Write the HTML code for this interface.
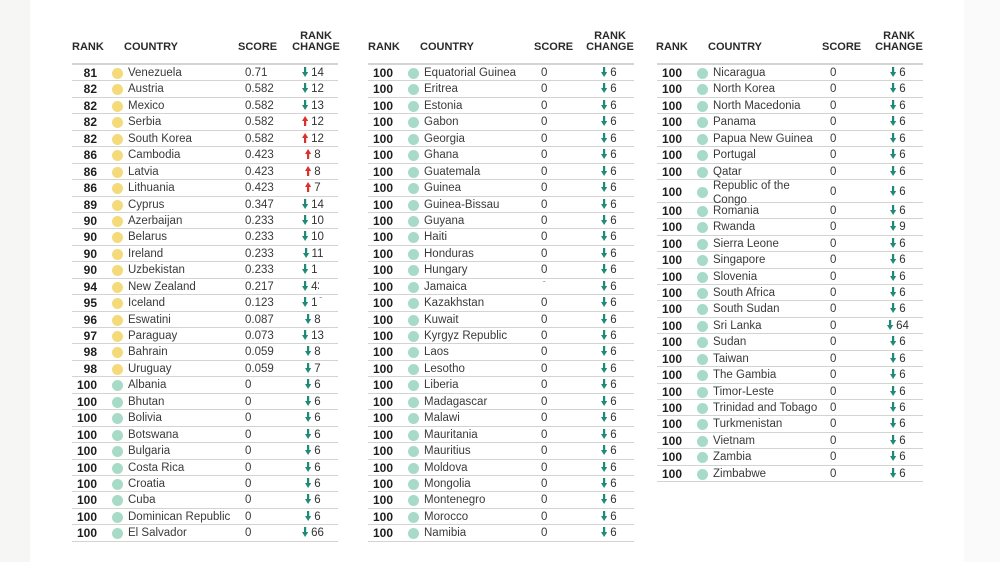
<!DOCTYPE html>
<html><head><meta charset="utf-8">
<style>
*{margin:0;padding:0;box-sizing:border-box}
html,body{width:1000px;height:562px;overflow:hidden;background:#fff}
body{position:relative;font-family:"Liberation Sans",sans-serif}
.ml{position:absolute;left:0;top:0;width:30px;height:562px;background:#f6f6f5}
.mr{position:absolute;right:0;top:0;width:36px;height:562px;background:#fafafa}
.t{position:absolute;top:63px;width:266px;border-top:2px solid #d4d4d4}
.h{position:absolute;font-size:11px;font-weight:bold;color:#2a2a2a;line-height:12px;white-space:nowrap}
.hc{position:absolute;font-size:11px;font-weight:bold;color:#2a2a2a;line-height:10.5px;text-align:center;width:60px}
.row{position:relative;height:16.45px;border-bottom:1px solid #d3d3d3;font-size:11.5px;line-height:15.5px;color:#3a3a3a;white-space:nowrap}
.row.tall{height:22.7px}
.row span{position:absolute;top:1px}
.r{left:0;width:25px;text-align:right;font-weight:bold;color:#1e1e1e;font-size:12px}
.row span.d{left:40px;top:3px;width:11px;height:11px;border-radius:50%;background:#a7dbc7}
.row span.y{background:#f5da7c}
.c{left:56px}
.s{left:173px}
.k{left:212px;width:58px;text-align:center;color:#333}
.k svg{display:inline-block;vertical-align:-1px;margin-right:3px}
.tall span.r,.tall span.s,.tall span.k{top:4.6px}
.tall span.d{top:6.6px}
.tall span.c{top:-1px;line-height:14px;white-space:normal;width:100px}
.w{position:absolute;background:#fff}
</style></head><body>
<div class="ml"></div><div class="mr"></div>

<!-- headers -->
<div class="h" style="left:72px;top:41px">RANK</div>
<div class="h" style="left:124px;top:41px">COUNTRY</div>
<div class="h" style="left:238px;top:41px">SCORE</div>
<div class="hc" style="left:286px;top:31px">RANK<br>CHANGE</div>

<div class="h" style="left:368px;top:41px">RANK</div>
<div class="h" style="left:420px;top:41px">COUNTRY</div>
<div class="h" style="left:534px;top:41px">SCORE</div>
<div class="hc" style="left:580px;top:31px">RANK<br>CHANGE</div>

<div class="h" style="left:656px;top:41px">RANK</div>
<div class="h" style="left:708px;top:41px">COUNTRY</div>
<div class="h" style="left:822px;top:41px">SCORE</div>
<div class="hc" style="left:869px;top:31px">RANK<br>CHANGE</div>

<svg width="0" height="0" style="position:absolute">
<defs>
<symbol id="dn" viewBox="0 0 6 10"><rect x="2" y="0" width="2.2" height="6" fill="#1f8a77"/><polygon points="0,5 6.2,5 3.1,10" fill="#1f8a77"/></symbol>
<symbol id="up" viewBox="0 0 6 10"><rect x="2" y="4" width="2.2" height="6" fill="#d8322a"/><polygon points="0,5 6.2,5 3.1,0" fill="#d8322a"/></symbol>
</defs></svg>

<!-- table 1 -->
<div class="t" style="left:72px">
<div class="row"><span class="r">81</span><span class="d y"></span><span class="c">Venezuela</span><span class="s">0.71</span><span class="k"><svg width="6" height="10"><use href="#dn"/></svg>14</span></div>
<div class="row"><span class="r">82</span><span class="d y"></span><span class="c">Austria</span><span class="s">0.582</span><span class="k"><svg width="6" height="10"><use href="#dn"/></svg>12</span></div>
<div class="row"><span class="r">82</span><span class="d y"></span><span class="c">Mexico</span><span class="s">0.582</span><span class="k"><svg width="6" height="10"><use href="#dn"/></svg>13</span></div>
<div class="row"><span class="r">82</span><span class="d y"></span><span class="c">Serbia</span><span class="s">0.582</span><span class="k"><svg width="6" height="10"><use href="#up"/></svg>12</span></div>
<div class="row"><span class="r">82</span><span class="d y"></span><span class="c">South Korea</span><span class="s">0.582</span><span class="k"><svg width="6" height="10"><use href="#up"/></svg>12</span></div>
<div class="row"><span class="r">86</span><span class="d y"></span><span class="c">Cambodia</span><span class="s">0.423</span><span class="k"><svg width="6" height="10"><use href="#up"/></svg>8</span></div>
<div class="row"><span class="r">86</span><span class="d y"></span><span class="c">Latvia</span><span class="s">0.423</span><span class="k"><svg width="6" height="10"><use href="#up"/></svg>8</span></div>
<div class="row"><span class="r">86</span><span class="d y"></span><span class="c">Lithuania</span><span class="s">0.423</span><span class="k"><svg width="6" height="10"><use href="#up"/></svg>7</span></div>
<div class="row"><span class="r">89</span><span class="d y"></span><span class="c">Cyprus</span><span class="s">0.347</span><span class="k"><svg width="6" height="10"><use href="#dn"/></svg>14</span></div>
<div class="row"><span class="r">90</span><span class="d y"></span><span class="c">Azerbaijan</span><span class="s">0.233</span><span class="k"><svg width="6" height="10"><use href="#dn"/></svg>10</span></div>
<div class="row"><span class="r">90</span><span class="d y"></span><span class="c">Belarus</span><span class="s">0.233</span><span class="k"><svg width="6" height="10"><use href="#dn"/></svg>10</span></div>
<div class="row"><span class="r">90</span><span class="d y"></span><span class="c">Ireland</span><span class="s">0.233</span><span class="k"><svg width="6" height="10"><use href="#dn"/></svg>11</span></div>
<div class="row"><span class="r">90</span><span class="d y"></span><span class="c">Uzbekistan</span><span class="s">0.233</span><span class="k"><svg width="6" height="10"><use href="#dn"/></svg>10</span></div>
<div class="row"><span class="r">94</span><span class="d y"></span><span class="c">New Zealand</span><span class="s">0.217</span><span class="k"><svg width="6" height="10"><use href="#dn"/></svg>43</span></div>
<div class="row"><span class="r">95</span><span class="d y"></span><span class="c">Iceland</span><span class="s">0.123</span><span class="k"><svg width="6" height="10"><use href="#dn"/></svg>10</span></div>
<div class="row"><span class="r">96</span><span class="d y"></span><span class="c">Eswatini</span><span class="s">0.087</span><span class="k"><svg width="6" height="10"><use href="#dn"/></svg>8</span></div>
<div class="row"><span class="r">97</span><span class="d y"></span><span class="c">Paraguay</span><span class="s">0.073</span><span class="k"><svg width="6" height="10"><use href="#dn"/></svg>13</span></div>
<div class="row"><span class="r">98</span><span class="d y"></span><span class="c">Bahrain</span><span class="s">0.059</span><span class="k"><svg width="6" height="10"><use href="#dn"/></svg>8</span></div>
<div class="row"><span class="r">98</span><span class="d y"></span><span class="c">Uruguay</span><span class="s">0.059</span><span class="k"><svg width="6" height="10"><use href="#dn"/></svg>7</span></div>
<div class="row"><span class="r">100</span><span class="d"></span><span class="c">Albania</span><span class="s">0</span><span class="k"><svg width="6" height="10"><use href="#dn"/></svg>6</span></div>
<div class="row"><span class="r">100</span><span class="d"></span><span class="c">Bhutan</span><span class="s">0</span><span class="k"><svg width="6" height="10"><use href="#dn"/></svg>6</span></div>
<div class="row"><span class="r">100</span><span class="d"></span><span class="c">Bolivia</span><span class="s">0</span><span class="k"><svg width="6" height="10"><use href="#dn"/></svg>6</span></div>
<div class="row"><span class="r">100</span><span class="d"></span><span class="c">Botswana</span><span class="s">0</span><span class="k"><svg width="6" height="10"><use href="#dn"/></svg>6</span></div>
<div class="row"><span class="r">100</span><span class="d"></span><span class="c">Bulgaria</span><span class="s">0</span><span class="k"><svg width="6" height="10"><use href="#dn"/></svg>6</span></div>
<div class="row"><span class="r">100</span><span class="d"></span><span class="c">Costa Rica</span><span class="s">0</span><span class="k"><svg width="6" height="10"><use href="#dn"/></svg>6</span></div>
<div class="row"><span class="r">100</span><span class="d"></span><span class="c">Croatia</span><span class="s">0</span><span class="k"><svg width="6" height="10"><use href="#dn"/></svg>6</span></div>
<div class="row"><span class="r">100</span><span class="d"></span><span class="c">Cuba</span><span class="s">0</span><span class="k"><svg width="6" height="10"><use href="#dn"/></svg>6</span></div>
<div class="row"><span class="r">100</span><span class="d"></span><span class="c">Dominican Republic</span><span class="s">0</span><span class="k"><svg width="6" height="10"><use href="#dn"/></svg>6</span></div>
<div class="row"><span class="r">100</span><span class="d"></span><span class="c">El Salvador</span><span class="s">0</span><span class="k"><svg width="6" height="10"><use href="#dn"/></svg>66</span></div>
</div>

<!-- table 2 -->
<div class="t" style="left:368px">
<div class="row"><span class="r">100</span><span class="d"></span><span class="c">Equatorial Guinea</span><span class="s">0</span><span class="k"><svg width="6" height="10"><use href="#dn"/></svg>6</span></div>
<div class="row"><span class="r">100</span><span class="d"></span><span class="c">Eritrea</span><span class="s">0</span><span class="k"><svg width="6" height="10"><use href="#dn"/></svg>6</span></div>
<div class="row"><span class="r">100</span><span class="d"></span><span class="c">Estonia</span><span class="s">0</span><span class="k"><svg width="6" height="10"><use href="#dn"/></svg>6</span></div>
<div class="row"><span class="r">100</span><span class="d"></span><span class="c">Gabon</span><span class="s">0</span><span class="k"><svg width="6" height="10"><use href="#dn"/></svg>6</span></div>
<div class="row"><span class="r">100</span><span class="d"></span><span class="c">Georgia</span><span class="s">0</span><span class="k"><svg width="6" height="10"><use href="#dn"/></svg>6</span></div>
<div class="row"><span class="r">100</span><span class="d"></span><span class="c">Ghana</span><span class="s">0</span><span class="k"><svg width="6" height="10"><use href="#dn"/></svg>6</span></div>
<div class="row"><span class="r">100</span><span class="d"></span><span class="c">Guatemala</span><span class="s">0</span><span class="k"><svg width="6" height="10"><use href="#dn"/></svg>6</span></div>
<div class="row"><span class="r">100</span><span class="d"></span><span class="c">Guinea</span><span class="s">0</span><span class="k"><svg width="6" height="10"><use href="#dn"/></svg>6</span></div>
<div class="row"><span class="r">100</span><span class="d"></span><span class="c">Guinea-Bissau</span><span class="s">0</span><span class="k"><svg width="6" height="10"><use href="#dn"/></svg>6</span></div>
<div class="row"><span class="r">100</span><span class="d"></span><span class="c">Guyana</span><span class="s">0</span><span class="k"><svg width="6" height="10"><use href="#dn"/></svg>6</span></div>
<div class="row"><span class="r">100</span><span class="d"></span><span class="c">Haiti</span><span class="s">0</span><span class="k"><svg width="6" height="10"><use href="#dn"/></svg>6</span></div>
<div class="row"><span class="r">100</span><span class="d"></span><span class="c">Honduras</span><span class="s">0</span><span class="k"><svg width="6" height="10"><use href="#dn"/></svg>6</span></div>
<div class="row"><span class="r">100</span><span class="d"></span><span class="c">Hungary</span><span class="s">0</span><span class="k"><svg width="6" height="10"><use href="#dn"/></svg>6</span></div>
<div class="row"><span class="r">100</span><span class="d"></span><span class="c">Jamaica</span><span class="s">0</span><span class="k"><svg width="6" height="10"><use href="#dn"/></svg>6</span></div>
<div class="row"><span class="r">100</span><span class="d"></span><span class="c">Kazakhstan</span><span class="s">0</span><span class="k"><svg width="6" height="10"><use href="#dn"/></svg>6</span></div>
<div class="row"><span class="r">100</span><span class="d"></span><span class="c">Kuwait</span><span class="s">0</span><span class="k"><svg width="6" height="10"><use href="#dn"/></svg>6</span></div>
<div class="row"><span class="r">100</span><span class="d"></span><span class="c">Kyrgyz Republic</span><span class="s">0</span><span class="k"><svg width="6" height="10"><use href="#dn"/></svg>6</span></div>
<div class="row"><span class="r">100</span><span class="d"></span><span class="c">Laos</span><span class="s">0</span><span class="k"><svg width="6" height="10"><use href="#dn"/></svg>6</span></div>
<div class="row"><span class="r">100</span><span class="d"></span><span class="c">Lesotho</span><span class="s">0</span><span class="k"><svg width="6" height="10"><use href="#dn"/></svg>6</span></div>
<div class="row"><span class="r">100</span><span class="d"></span><span class="c">Liberia</span><span class="s">0</span><span class="k"><svg width="6" height="10"><use href="#dn"/></svg>6</span></div>
<div class="row"><span class="r">100</span><span class="d"></span><span class="c">Madagascar</span><span class="s">0</span><span class="k"><svg width="6" height="10"><use href="#dn"/></svg>6</span></div>
<div class="row"><span class="r">100</span><span class="d"></span><span class="c">Malawi</span><span class="s">0</span><span class="k"><svg width="6" height="10"><use href="#dn"/></svg>6</span></div>
<div class="row"><span class="r">100</span><span class="d"></span><span class="c">Mauritania</span><span class="s">0</span><span class="k"><svg width="6" height="10"><use href="#dn"/></svg>6</span></div>
<div class="row"><span class="r">100</span><span class="d"></span><span class="c">Mauritius</span><span class="s">0</span><span class="k"><svg width="6" height="10"><use href="#dn"/></svg>6</span></div>
<div class="row"><span class="r">100</span><span class="d"></span><span class="c">Moldova</span><span class="s">0</span><span class="k"><svg width="6" height="10"><use href="#dn"/></svg>6</span></div>
<div class="row"><span class="r">100</span><span class="d"></span><span class="c">Mongolia</span><span class="s">0</span><span class="k"><svg width="6" height="10"><use href="#dn"/></svg>6</span></div>
<div class="row"><span class="r">100</span><span class="d"></span><span class="c">Montenegro</span><span class="s">0</span><span class="k"><svg width="6" height="10"><use href="#dn"/></svg>6</span></div>
<div class="row"><span class="r">100</span><span class="d"></span><span class="c">Morocco</span><span class="s">0</span><span class="k"><svg width="6" height="10"><use href="#dn"/></svg>6</span></div>
<div class="row"><span class="r">100</span><span class="d"></span><span class="c">Namibia</span><span class="s">0</span><span class="k"><svg width="6" height="10"><use href="#dn"/></svg>6</span></div>
</div>

<!-- table 3 -->
<div class="t" style="left:657px">
<div class="row"><span class="r">100</span><span class="d"></span><span class="c">Nicaragua</span><span class="s">0</span><span class="k"><svg width="6" height="10"><use href="#dn"/></svg>6</span></div>
<div class="row"><span class="r">100</span><span class="d"></span><span class="c">North Korea</span><span class="s">0</span><span class="k"><svg width="6" height="10"><use href="#dn"/></svg>6</span></div>
<div class="row"><span class="r">100</span><span class="d"></span><span class="c">North Macedonia</span><span class="s">0</span><span class="k"><svg width="6" height="10"><use href="#dn"/></svg>6</span></div>
<div class="row"><span class="r">100</span><span class="d"></span><span class="c">Panama</span><span class="s">0</span><span class="k"><svg width="6" height="10"><use href="#dn"/></svg>6</span></div>
<div class="row"><span class="r">100</span><span class="d"></span><span class="c">Papua New Guinea</span><span class="s">0</span><span class="k"><svg width="6" height="10"><use href="#dn"/></svg>6</span></div>
<div class="row"><span class="r">100</span><span class="d"></span><span class="c">Portugal</span><span class="s">0</span><span class="k"><svg width="6" height="10"><use href="#dn"/></svg>6</span></div>
<div class="row"><span class="r">100</span><span class="d"></span><span class="c">Qatar</span><span class="s">0</span><span class="k"><svg width="6" height="10"><use href="#dn"/></svg>6</span></div>
<div class="row tall"><span class="r">100</span><span class="d"></span><span class="c">Republic of the Congo</span><span class="s">0</span><span class="k"><svg width="6" height="10"><use href="#dn"/></svg>6</span></div>
<div class="row"><span class="r">100</span><span class="d"></span><span class="c">Romania</span><span class="s">0</span><span class="k"><svg width="6" height="10"><use href="#dn"/></svg>6</span></div>
<div class="row"><span class="r">100</span><span class="d"></span><span class="c">Rwanda</span><span class="s">0</span><span class="k"><svg width="6" height="10"><use href="#dn"/></svg>9</span></div>
<div class="row"><span class="r">100</span><span class="d"></span><span class="c">Sierra Leone</span><span class="s">0</span><span class="k"><svg width="6" height="10"><use href="#dn"/></svg>6</span></div>
<div class="row"><span class="r">100</span><span class="d"></span><span class="c">Singapore</span><span class="s">0</span><span class="k"><svg width="6" height="10"><use href="#dn"/></svg>6</span></div>
<div class="row"><span class="r">100</span><span class="d"></span><span class="c">Slovenia</span><span class="s">0</span><span class="k"><svg width="6" height="10"><use href="#dn"/></svg>6</span></div>
<div class="row"><span class="r">100</span><span class="d"></span><span class="c">South Africa</span><span class="s">0</span><span class="k"><svg width="6" height="10"><use href="#dn"/></svg>6</span></div>
<div class="row"><span class="r">100</span><span class="d"></span><span class="c">South Sudan</span><span class="s">0</span><span class="k"><svg width="6" height="10"><use href="#dn"/></svg>6</span></div>
<div class="row"><span class="r">100</span><span class="d"></span><span class="c">Sri Lanka</span><span class="s">0</span><span class="k"><svg width="6" height="10"><use href="#dn"/></svg>64</span></div>
<div class="row"><span class="r">100</span><span class="d"></span><span class="c">Sudan</span><span class="s">0</span><span class="k"><svg width="6" height="10"><use href="#dn"/></svg>6</span></div>
<div class="row"><span class="r">100</span><span class="d"></span><span class="c">Taiwan</span><span class="s">0</span><span class="k"><svg width="6" height="10"><use href="#dn"/></svg>6</span></div>
<div class="row"><span class="r">100</span><span class="d"></span><span class="c">The Gambia</span><span class="s">0</span><span class="k"><svg width="6" height="10"><use href="#dn"/></svg>6</span></div>
<div class="row"><span class="r">100</span><span class="d"></span><span class="c">Timor-Leste</span><span class="s">0</span><span class="k"><svg width="6" height="10"><use href="#dn"/></svg>6</span></div>
<div class="row"><span class="r">100</span><span class="d"></span><span class="c">Trinidad and Tobago</span><span class="s">0</span><span class="k"><svg width="6" height="10"><use href="#dn"/></svg>6</span></div>
<div class="row"><span class="r">100</span><span class="d"></span><span class="c">Turkmenistan</span><span class="s">0</span><span class="k"><svg width="6" height="10"><use href="#dn"/></svg>6</span></div>
<div class="row"><span class="r">100</span><span class="d"></span><span class="c">Vietnam</span><span class="s">0</span><span class="k"><svg width="6" height="10"><use href="#dn"/></svg>6</span></div>
<div class="row"><span class="r">100</span><span class="d"></span><span class="c">Zambia</span><span class="s">0</span><span class="k"><svg width="6" height="10"><use href="#dn"/></svg>6</span></div>
<div class="row"><span class="r">100</span><span class="d"></span><span class="c">Zimbabwe</span><span class="s">0</span><span class="k"><svg width="6" height="10"><use href="#dn"/></svg>6</span></div>
</div>

<!-- watermark-obscured bits -->
<div class="w" style="left:318px;top:264px;width:30px;height:10px"></div>
<div class="w" style="left:319px;top:281px;width:28px;height:10px"></div>
<div class="w" style="left:318px;top:298px;width:30px;height:10px"></div>
<div class="w" style="left:536px;top:282px;width:14px;height:11px"></div>
</body></html>
